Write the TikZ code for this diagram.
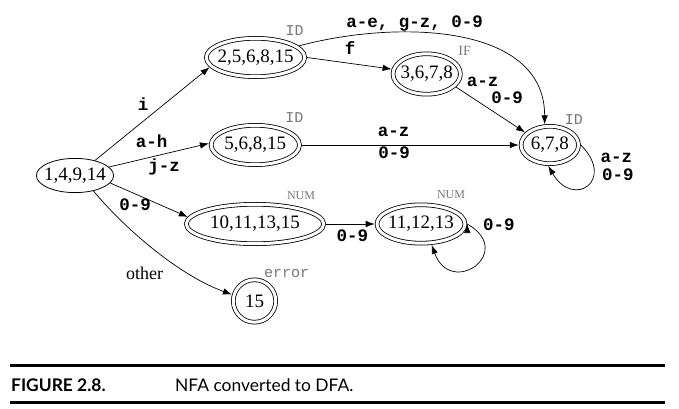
\documentclass[tikz,border=0pt]{standalone}
\usepackage{fontspec}
\setmainfont{Liberation Serif}
\setmonofont{Liberation Mono}
\newfontfamily\capfont{Lato}
\usetikzlibrary{arrows.meta,positioning,shapes.geometric}
\definecolor{taggray}{RGB}{118,118,118}

\begin{document}
\begin{tikzpicture}[>={Latex[length=9pt,width=6.5pt]}, x=1pt, y=1pt, on grid]
    \tikzset{state/.style={draw, ellipse, line width=0.8pt, inner xsep=-12pt, inner ysep=0pt, font=\fontsize{19}{21}\selectfont},
    accept/.style={state, double, double distance=3pt, outer sep=2.3pt},
    tag/.style={text=taggray, inner sep=0pt, font=\fontsize{15}{15}\ttfamily},
    stag/.style={text=taggray, inner sep=0pt, font=\fontsize{12}{12}\selectfont},
    lbl/.style={inner sep=0.5pt, text height=11pt, text depth=3pt, font=\fontsize{17.5}{18}\ttfamily\bfseries},
    olbl/.style={text height=12pt, text depth=0pt, font=\fontsize{18}{20}\selectfont},
    rule/.style={line width=3pt},
    }
    \useasboundingbox (0,0) rectangle (679,-409);
    \node [state, minimum width=77.2pt, minimum height=34.2pt] (start) at (75,-175.5) {1,4,9,14};
    \node [accept, minimum width=98.4pt, minimum height=38.4pt, above right=118pt and 180.5pt of start] (idone) {2,5,6,8,15};
    \node [accept, minimum width=88.4pt, minimum height=39.4pt, above right=30.5pt and 180.3pt of start] (idtwo) {5,6,8,15};
    \node [accept, minimum width=137.4pt, minimum height=39.4pt, below right=48.5pt and 180pt of start] (numone) {10,11,13,15};
    \node [accept, circle, minimum size=42.4pt, below right=125.5pt and 179.5pt of start] (errst) {15};
    \node [accept, minimum width=67.4pt, minimum height=40.4pt, below right=16.5pt and 171.2pt of idone] (ifkey) {3,6,7,8};
    \node [accept, minimum width=57.4pt, minimum height=37.4pt, right=294.5pt of idtwo] (idend) {6,7,8};
    \node [accept, minimum width=88pt, minimum height=38.4pt, right=166pt of numone] (numtwo) {11,12,13};
    %% token tags
    \node [tag, above right=26.5pt and 39pt of idone] (idonetag) {ID};
    \node [tag, above right=27pt and 39pt of idtwo] (idtwotag) {ID};
    \node [stag, font=\fontsize{14}{14}\selectfont, above right=23pt and 38pt of ifkey] (ifkeytag) {IF};
    \node [tag, above right=25pt and 24pt of idend] (idendtag) {ID};
    \node [stag, above right=28.5pt and 46pt of numone] (numonetag) {NUM};
    \node [stag, above right=29pt and 30pt of numtwo] (numtwotag) {NUM};
    \node [tag, above right=27pt and 32pt of errst] (errsttag) {error};

% paths
    \path[draw, ->, line width=0.7pt, every node/.style={lbl}]
                (start.37) edge node[pos=.42, above=7pt] {i} (idone.192)
                (start.14) edge node[pos=.425, above=5.7pt] {a-h} node[pos=.55, below=6pt] {j-z} (idtwo.178)
                (start.-12) edge node[pos=.32, below=4.8pt] {0-9} (numone.174)
                (start.-40) edge[out=-50, in=160, looseness=.8] node[olbl, pos=.55, below left=10pt and 0pt] {other} (errst.164)
                (idone.east) edge node[pos=.51, above=5.2pt] {f} (ifkey.172)
                (idone.15) edge[out=15, in=90] node[pos=.36, above=1pt] {a-e, g-z, 0-9} (idend.104)
                (ifkey.-24) edge node[pos=.146, above right=3pt and 0pt] {a-z} node[pos=.5, above right=2pt and 0pt] {0-9} (idend.153)
                (idtwo) edge node[pos=.423, above=4.2pt] {a-z} node[pos=.425, below=1.5pt] {0-9} (idend)
                (idend.east) edge[out=-45, in=-60, looseness=3.3] node[pos=.13, right=9pt] {a-z} node[pos=.35, right=8pt] {0-9} (idend.-94)
                (numone) edge node[pos=.54, below=5.3pt] {0-9} (numtwo)
                (numtwo.east) edge[out=-30, in=-70, looseness=3.5] node[pos=.12, above right=0pt and 2pt] {0-9} (numtwo.-63)
                ;
    %% caption
    \draw[rule] (10,-365) -- (665,-365);
    \draw[rule] (10,-402) -- (665,-402);
    \node [anchor=base west, inner sep=0pt, font=\capfont\fontsize{17.4}{17.4}\selectfont\bfseries] (capnum) at (11,-391) {FIGURE 2.8.};
    \node [anchor=base west, inner sep=0pt, font=\capfont\fontsize{17.4}{17.4}\selectfont] (captext) at (175,-391) {NFA converted to DFA.};
\end{tikzpicture}
\end{document}
